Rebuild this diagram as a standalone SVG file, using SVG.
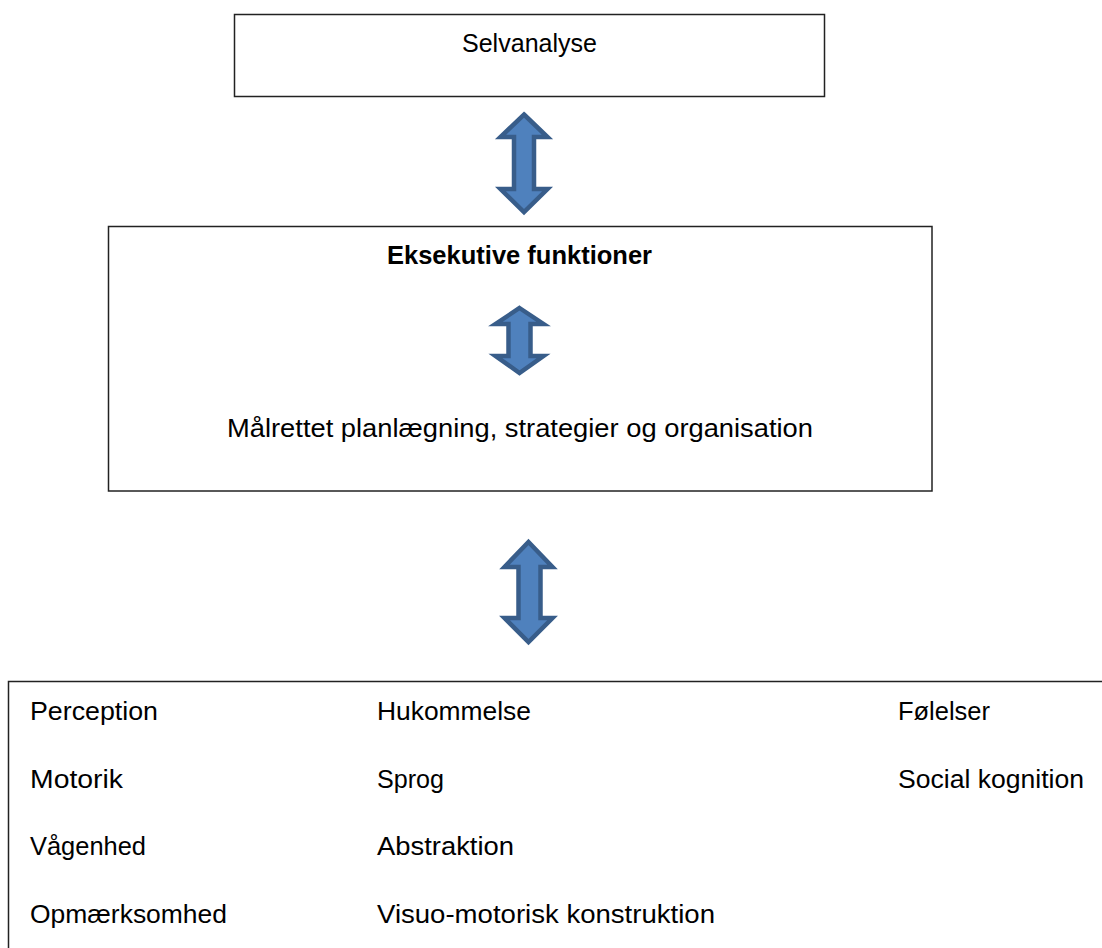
<svg xmlns="http://www.w3.org/2000/svg" width="1102" height="948" viewBox="0 0 1102 948">
<style>
.box{fill:#fff;stroke:#222;stroke-width:1.5}
.arr{fill:#4F81BD;stroke:#385D8A;stroke-width:4.5;stroke-linejoin:miter}
text{font-family:"Liberation Sans",Arial,sans-serif;font-size:26.5px;fill:#000}
.b{font-weight:bold}
</style>
<rect width="1102" height="948" fill="#fff"/>
<g id="node-selvanalyse">
<rect class="box" x="234.5" y="14.5" width="590" height="82"/>
<text x="529.5" y="52" text-anchor="middle" textLength="135" lengthAdjust="spacingAndGlyphs">Selvanalyse</text>
</g>
<g id="node-eksekutive">
<rect class="box" x="108.5" y="226.5" width="823.5" height="264.5"/>
<text class="b" x="519.5" y="264" text-anchor="middle" textLength="265" lengthAdjust="spacingAndGlyphs">Eksekutive funktioner</text>
<text x="520" y="437" text-anchor="middle" textLength="586" lengthAdjust="spacingAndGlyphs">Målrettet planlægning, strategier og organisation</text>
</g>
<g id="node-funktioner">
<rect class="box" x="8.5" y="681.5" width="1110" height="300"/>
<text x="30" y="720" textLength="128" lengthAdjust="spacingAndGlyphs">Perception</text>
<text x="30" y="787.5" textLength="93" lengthAdjust="spacingAndGlyphs">Motorik</text>
<text x="30" y="855" textLength="116" lengthAdjust="spacingAndGlyphs">Vågenhed</text>
<text x="30" y="922.5" textLength="197" lengthAdjust="spacingAndGlyphs">Opmærksomhed</text>
<text x="377" y="720" textLength="154" lengthAdjust="spacingAndGlyphs">Hukommelse</text>
<text x="377" y="787.5" textLength="67" lengthAdjust="spacingAndGlyphs">Sprog</text>
<text x="377" y="855" textLength="137" lengthAdjust="spacingAndGlyphs">Abstraktion</text>
<text x="377" y="922.5" textLength="338" lengthAdjust="spacingAndGlyphs">Visuo-motorisk konstruktion</text>
<text x="898" y="720" textLength="92" lengthAdjust="spacingAndGlyphs">Følelser</text>
<text x="898" y="787.5" textLength="186" lengthAdjust="spacingAndGlyphs">Social kognition</text>
</g>
<g id="connectors">
<path class="arr" d="M524,114.5 L547.5,137 L534,137 L534,189 L547.5,189 L524,212 L500.5,189 L514,189 L514,137 L500.5,137 Z"/>
<path class="arr" d="M519.5,308 L543.5,324 L530.5,324 L530.5,356 L543.5,356 L519.5,373 L495.5,356 L508.5,356 L508.5,324 L495.5,324 Z"/>
<path class="arr" d="M528.5,542 L552.5,567 L540.5,567 L540.5,618 L552.5,618 L528.5,642 L504.5,618 L518.5,618 L518.5,567 L504.5,567 Z"/>
</g>
</svg>
